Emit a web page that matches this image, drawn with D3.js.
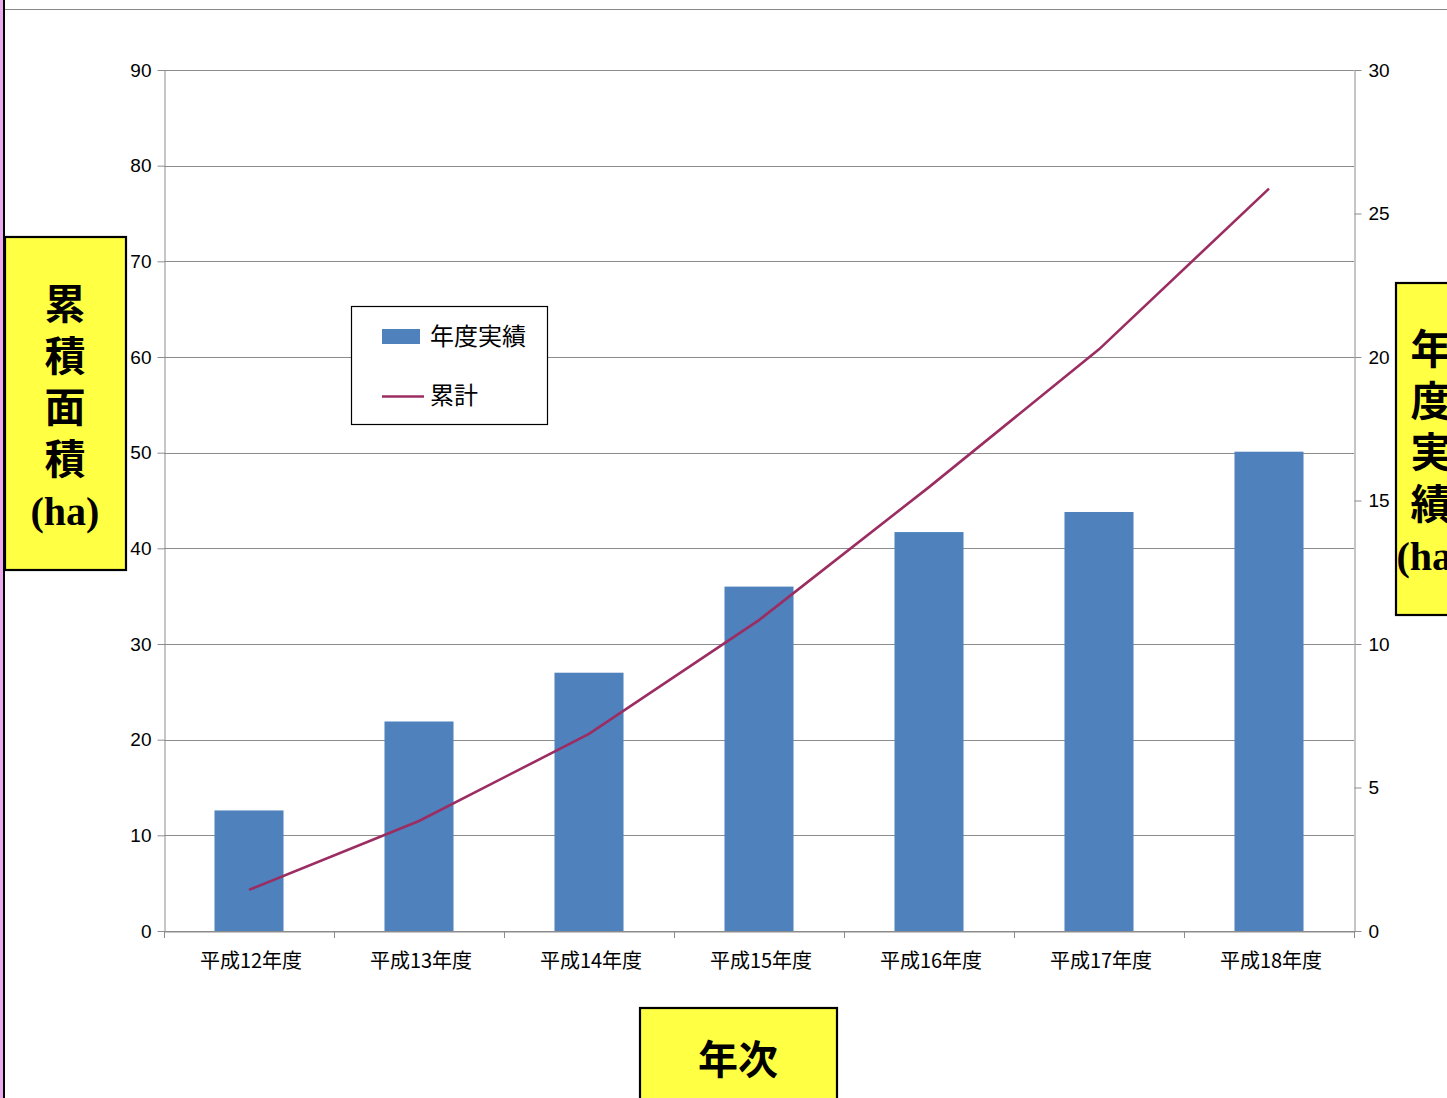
<!DOCTYPE html>
<html><head><meta charset="utf-8">
<script src="https://cdn.jsdelivr.net/npm/d3@7"></script>
<style>
html,body{margin:0;padding:0;background:#fff;}
svg{display:block;}
</style>
</head><body>
<svg id="chart" width="1447" height="1098"></svg>
<script>
const categories = ["平成12年度","平成13年度","平成14年度","平成15年度","平成16年度","平成17年度","平成18年度"];
const annual = [4.2, 7.3, 9.0, 12.0, 13.9, 14.6, 16.7];      // 年度実績 (right axis)
const cumulative = [4.3, 11.5, 20.6, 32.5, 46.4, 60.8, 77.6]; // 累計 (left axis)
const leftTicks = [0,10,20,30,40,50,60,70,80,90];
const rightTicks = [0,5,10,15,20,25,30];
const seriesNames = ["年度実績","累計"];
const leftTitle = ["累","積","面","積","(ha)"];
const rightTitle = ["年","度","実","績","(ha)"];
const xTitle = "年次";

const svg = d3.select("#chart");
const L = 164, R = 1354, T = 70, B = 931;
const barColor = "#4f81bd", lineColor = "#9b2d62", gridColor = "#8c8c8c";
const sans = "'Liberation Sans', Arial, sans-serif";
const cjk = "'Noto Sans CJK JP', 'Noto Sans CJK SC', sans-serif";

// page frame
svg.append("rect").attr("x",0).attr("y",0).attr("width",3).attr("height",1098).attr("fill","#eeaaee");
svg.append("line").attr("x1",4).attr("x2",4).attr("y1",0).attr("y2",1098).attr("stroke","#000").attr("stroke-width",2);
svg.append("line").attr("x1",5).attr("x2",1447).attr("y1",9.5).attr("y2",9.5).attr("stroke","#888").attr("stroke-width",1);

const x = d3.scaleBand().domain(categories).range([L,R]).paddingInner(0.594).paddingOuter(0.297);
const yL = d3.scaleLinear().domain([0,90]).range([B,T]);
const yR = d3.scaleLinear().domain([0,30]).range([B,T]);

// gridlines
svg.append("g").selectAll("line").data(leftTicks).join("line")
  .attr("x1",L).attr("x2",R).attr("y1",d=>Math.round(yL(d))+0.5).attr("y2",d=>Math.round(yL(d))+0.5)
  .attr("stroke",gridColor).attr("stroke-width",1);

// bars
svg.append("g").selectAll("rect").data(annual).join("rect")
  .attr("x",(d,i)=>x(categories[i])).attr("width",x.bandwidth())
  .attr("y",d=>yR(d)).attr("height",d=>B-yR(d)).attr("fill",barColor);

// line
const line = d3.line().x((d,i)=>x(categories[i])+x.bandwidth()/2).y(d=>yL(d));
svg.append("path").datum(cumulative).attr("d",line).attr("fill","none")
  .attr("stroke",lineColor).attr("stroke-width",2.6);

// left axis
const gL = svg.append("g").attr("transform",`translate(${L+0.5},0)`)
  .call(d3.axisLeft(yL).tickValues(leftTicks).tickSize(7).tickSizeOuter(0).tickPadding(6));
// right axis
const gR = svg.append("g").attr("transform",`translate(${R+0.5},0)`)
  .call(d3.axisRight(yR).tickValues(rightTicks).tickSize(7).tickSizeOuter(0).tickPadding(7));
[gL,gR].forEach(g=>{
  g.selectAll("path.domain").attr("stroke",gridColor);
  g.selectAll(".tick line").attr("stroke",gridColor);
  g.selectAll(".tick text").attr("font-family",sans).attr("font-size",19).attr("fill","#000");
});

// bottom axis
const gB = svg.append("g").attr("transform",`translate(0,${B+0.5})`)
  .call(d3.axisBottom(x).tickSize(0).tickPadding(22));
gB.select("path.domain").attr("stroke",gridColor);
gB.selectAll(".tick text").attr("font-family",cjk).attr("font-size",20).attr("fill","#000").attr("dx",2);
const off = (x.step()-x.bandwidth())/2;
const bounds = categories.map(c=>x(c)-off).concat([R]);
svg.append("g").selectAll("line").data(bounds).join("line")
  .attr("x1",d=>Math.round(d)+0.5).attr("x2",d=>Math.round(d)+0.5).attr("y1",B).attr("y2",B+7)
  .attr("stroke",gridColor);

// legend
const lg = svg.append("g");
lg.append("rect").attr("x",351.5).attr("y",306.5).attr("width",196).attr("height",118)
  .attr("fill","#fff").attr("stroke","#000").attr("stroke-width",1.2);
lg.append("rect").attr("x",382).attr("y",329).attr("width",38).attr("height",15).attr("fill",barColor);
lg.append("line").attr("x1",382).attr("x2",424).attr("y1",396.5).attr("y2",396.5).attr("stroke",lineColor).attr("stroke-width",2.6);
lg.append("text").attr("x",430).attr("y",345).text(seriesNames[0])
  .attr("font-family",cjk).attr("font-size",24);
lg.append("text").attr("x",430).attr("y",404).text(seriesNames[1])
  .attr("font-family",cjk).attr("font-size",24);

// title boxes (one text element per box, lines as tspans)
function titleBox(x0,y0,w,h,lines,cx,cy0){
  svg.append("rect").attr("x",x0).attr("y",y0).attr("width",w).attr("height",h)
    .attr("fill","#ffff44").attr("stroke","#000").attr("stroke-width",2.2);
  const t = svg.append("text").attr("x",cx).attr("y",cy0).attr("text-anchor","middle")
    .attr("font-weight","bold").attr("fill","#000");
  lines.forEach((s,i)=>{
    const isLatin = /^[\x00-\x7f]+$/.test(s);
    t.append("tspan").attr("x",cx).attr("y",cy0+i*51.5)
      .attr("font-family",isLatin?"'Liberation Serif', 'Times New Roman', serif":cjk)
      .attr("font-size",isLatin?40:41).text(s);
  });
}
titleBox(5,237,121,333,leftTitle,65,319);
titleBox(1396,283,90,332,rightTitle,1431,364);

svg.append("rect").attr("x",640).attr("y",1008).attr("width",197).attr("height",100)
  .attr("fill","#ffff44").attr("stroke","#000").attr("stroke-width",2.2);
svg.append("text").attr("x",738).attr("y",1057).attr("text-anchor","middle").attr("dominant-baseline","central")
  .attr("font-family",cjk).attr("font-weight","bold").attr("font-size",40).text(xTitle);
</script>
</body></html>
